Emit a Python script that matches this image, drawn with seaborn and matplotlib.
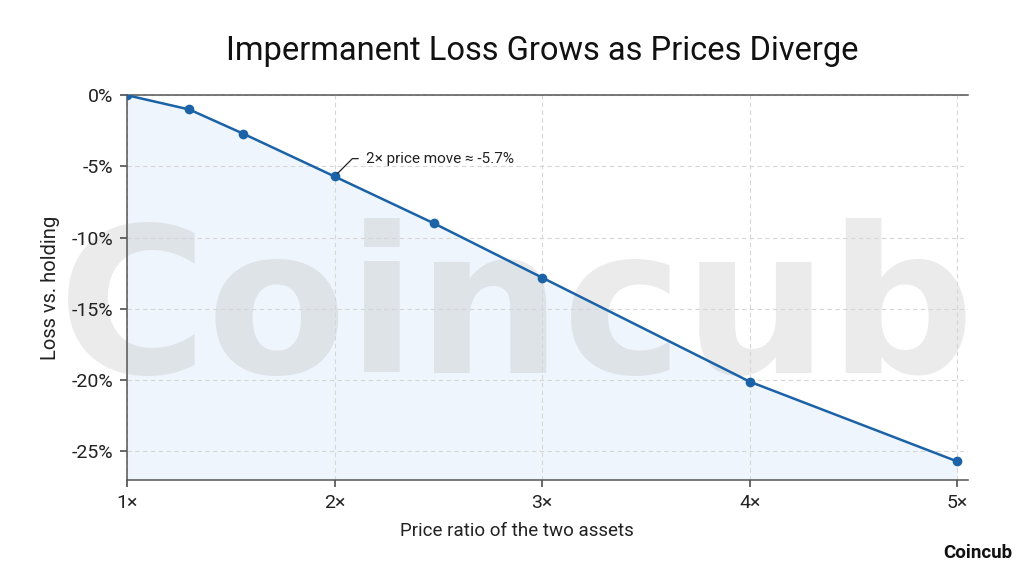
import matplotlib
matplotlib.use("Agg")
import matplotlib.pyplot as plt
import seaborn as sns
import pandas as pd

# Data
price_ratio = [1.0, 1.3, 1.56, 2.0, 2.48, 3.0, 4.0, 5.0]
loss_pct = [0.0, -1.0, -2.7, -5.7, -9.0, -12.8, -20.1, -25.7]
x_ticks = [1, 2, 3, 4, 5]
x_tick_labels = ["1×", "2×", "3×", "4×", "5×"]
y_ticks = [0, -5, -10, -15, -20, -25]
y_tick_labels = ["0%", "-5%", "-10%", "-15%", "-20%", "-25%"]
title = "Impermanent Loss Grows as Prices Diverge"
annotation = "2× price move ≈ -5.7%"

df = pd.DataFrame({"ratio": price_ratio, "loss": loss_pct})

sns.set_theme(style="white")
plt.rcParams["font.family"] = ["Roboto", "DejaVu Sans"]

line_color = "#1b62a6"
fig = plt.figure(figsize=(10.24, 5.76), dpi=100)
ax = fig.add_axes([0.124, 0.1667, 0.821, 0.668])

ymin = -27.0
ax.fill_between(df["ratio"], df["loss"], ymin, color="#eef5fc", zorder=0.1, linewidth=0)

# watermark (below grid and line)
ax.text(0.505, 0.3524, "Coincub", transform=fig.transFigure, fontsize=147, fontweight="bold",
        color="#b0b0b0", alpha=0.25, ha="center", va="baseline", zorder=0.3, clip_on=False,
        family=["DejaVu Sans"])

sns.lineplot(data=df, x="ratio", y="loss", ax=ax, color=line_color, linewidth=1.8,
             marker="o", markersize=7, markeredgewidth=0, zorder=4)

ax.set_xlim(1.0, 5.05)
ax.set_ylim(ymin, 0)
ax.set_xticks(x_ticks)
ax.set_xticklabels(x_tick_labels, fontsize=14)
ax.set_yticks(y_ticks)
ax.set_yticklabels(y_tick_labels, fontsize=14)
ax.grid(True, linestyle=(0, (4, 3)), color="#d6d6d6", linewidth=0.8)
ax.set_axisbelow(True)
ax.set_facecolor("none")

for s in ["left", "bottom", "top"]:
    ax.spines[s].set_color("#555555")
    ax.spines[s].set_linewidth(1.1)
ax.spines["right"].set_visible(False)
ax.tick_params(axis="both", which="both", length=5, color="#555555", labelcolor="#222222", pad=5,
               bottom=True, left=True)

ax.set_xlabel("Price ratio of the two assets", fontsize=13.5, color="#222222")
ax.xaxis.set_label_coords((517 - 127) / 841, -0.11)
ax.set_ylabel("Loss vs. holding", fontsize=14.5, color="#222222", labelpad=8)

fig.suptitle(title, fontsize=23.5, color="#111111", x=0.53, y=0.94)

ax.annotate(annotation, xy=(2.0, -5.7), xytext=(2.15, -4.45), fontsize=11, color="#222222",
            va="center", ha="left", zorder=5,
            arrowprops=dict(arrowstyle="-", color="#222222", linewidth=0.9,
                            connectionstyle="angle,angleA=0,angleB=45,rad=0", shrinkA=3, shrinkB=3))

fig.text(0.989, 0.04, "Coincub", fontsize=13.5, fontweight="bold", color="#111111", ha="right", va="center")

fig.savefig("out.png", dpi=100, facecolor="white")
